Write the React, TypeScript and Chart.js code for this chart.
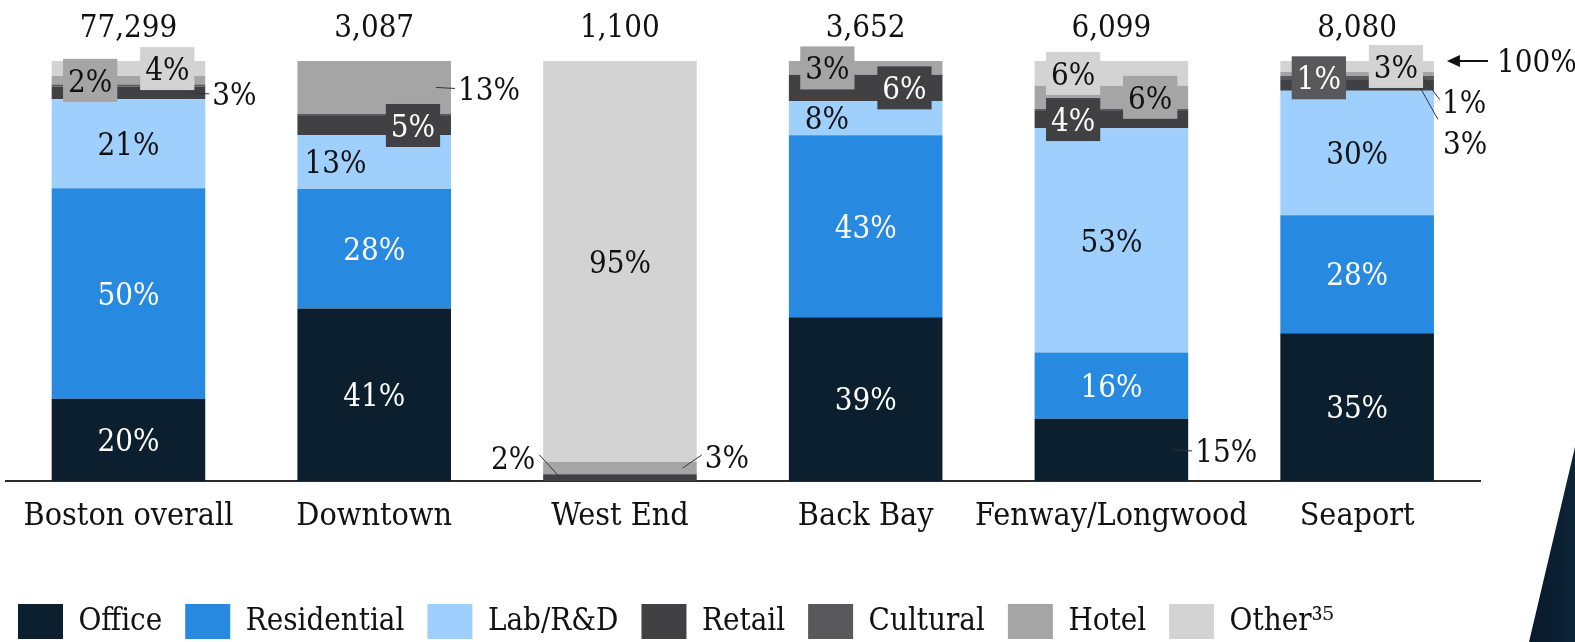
import React, { useEffect, useRef } from "react";
import { Chart, registerables } from "chart.js";

Chart.register(...registerables);

const FONT_FAMILY = "'DejaVu Serif Condensed', 'DejaVu Serif', serif";
const FONT_SIZE = 31;
const TICK_FONT_SIZE = 32;
const DIGIT_H = 0.729 * FONT_SIZE;

// ---------- data ----------
const categories = ["Boston overall", "Downtown", "West End", "Back Bay", "Fenway/Longwood", "Seaport"];
const totalProjects = [77299, 3087, 1100, 3652, 6099, 8080];
const seriesNames = ["Office", "Residential", "Lab/R&D", "Retail", "Cultural", "Hotel", "Other\u00B3\u2075"];
const office = [19.6, 41.1, 0, 39.0, 14.8, 35.2];
const residential = [50.1, 28.4, 0, 43.3, 15.8, 28.1];
const labRD = [21.2, 12.9, 0, 8.2, 53.4, 29.6];
const retail = [3.0, 4.5, 1.6, 6.2, 4.1, 2.6];
const cultural = [0.5, 0.5, 0, 0, 0.5, 1.0];
const hotel = [2.0, 12.6, 3.0, 3.3, 5.5, 0.9];
const other = [3.6, 0, 95.4, 0, 5.9, 2.6];
const axisMax = 100;

const seriesValues = [office, residential, labRD, retail, cultural, hotel, other];

// ---------- styles ----------
const colors = ["#0b1f2f", "#2889e0", "#9fd0fd", "#414143", "#59595b", "#a5a5a5", "#d3d3d3"];
const textColors = ["#ffffff", "#ffffff", "#111111", "#ffffff", "#ffffff", "#111111", "#111111"];

// label placement per series (rows) and category (columns)
const placement = [
  ["c", "c", "", "c", "out", "c"],
  ["c", "c", "", "c", "c", "c"],
  ["c", "in", "", "in", "c", "c"],
  ["out", "boxR", "dl0", "boxR", "boxL", "dr1"],
  ["", "", "", "", "", "boxL"],
  ["boxL", "out", "dr0", "boxL", "boxR", "dr2"],
  ["boxR", "", "c", "", "boxL", "boxR"],
];

// callouts: tx text offset outward from bar edge, ty text centre offset from segment centre,
// lx0 line start (outward offset, at segment centre), lx1/ly1 line end (outward offset, offset from text centre)
const callouts: Record<string, { side: number; tx: number; ty: number; lx0: number; lx1: number; ly1: number }> = {
  out: { side: 1, tx: 7, ty: 1, lx0: -15, lx1: 4, ly1: 0 },
  dl0: { side: -1, tx: 8, ty: -20, lx0: -17, lx1: 4, ly1: -3 },
  dr0: { side: 1, tx: 8, ty: -11, lx0: -14, lx1: 5, ly1: -2 },
  dr1: { side: 1, tx: 9, ty: 57, lx0: -15, lx1: 4, ly1: -23 },
  dr2: { side: 1, tx: 8, ty: 28, lx0: -14, lx1: 6, ly1: -2 },
};

const LEGEND_LEFT = 18;
const LEGEND_TOP = 604;

const legendPlace = {
  id: "legendPlace",
  afterLayout(chart: any) {
    const lg = chart.legend;
    if (!lg) return;
    const pad = lg.options.labels.padding;
    lg.left = LEGEND_LEFT - pad;
    lg.right = lg.left + lg.width;
    lg.top = LEGEND_TOP - pad;
    lg.bottom = lg.top + lg.height;
  },
};

const labelPlugin = {
  id: "segmentLabels",
  afterDatasetsDraw(chart: any) {
    const ctx: CanvasRenderingContext2D = chart.ctx;
    const yScale = chart.scales.y;
    ctx.save();
    ctx.font = `${FONT_SIZE}px ${FONT_FAMILY}`;
    const lines: number[][] = [];
    const boxes: { cx: number; cy: number; w: number; color: string }[] = [];
    const texts: { t: string; x: number; y: number; align: CanvasTextAlign; color: string }[] = [];

    chart.data.datasets.forEach((ds: any, di: number) => {
      const meta = chart.getDatasetMeta(di);
      meta.data.forEach((bar: any, i: number) => {
        const mode = placement[di][i];
        if (!mode) return;
        const v = ds.data[i];
        const p = bar.getProps(["x", "y", "base", "width"], true);
        const left = p.x - p.width / 2;
        const right = p.x + p.width / 2;
        const cy = (p.y + p.base) / 2;
        const t = Math.round(v) + "%";
        if (mode === "c") {
          texts.push({ t, x: p.x, y: cy, align: "center", color: textColors[di] });
        } else if (mode === "in") {
          texts.push({ t, x: left + 38, y: cy, align: "center", color: textColors[di] });
        } else if (mode === "boxL" || mode === "boxR") {
          const cx = mode === "boxL" ? left + 38.5 : right - 38;
          const w = ctx.measureText(t).width + 10;
          boxes.push({ cx, cy, w, color: colors[di] });
          texts.push({ t, x: cx, y: cy, align: "center", color: textColors[di] });
        } else {
          const c = callouts[mode];
          const edge = c.side > 0 ? right : left;
          const ty = cy + c.ty;
          lines.push([edge + c.side * c.lx0, cy, edge + c.side * c.lx1, ty + c.ly1]);
          texts.push({ t, x: edge + c.side * c.tx, y: ty, align: c.side > 0 ? "left" : "right", color: "#111111" });
        }
      });
    });

    ctx.strokeStyle = "#333333";
    ctx.lineWidth = 1;
    lines.forEach((l) => {
      ctx.beginPath();
      ctx.moveTo(l[0], l[1]);
      ctx.lineTo(l[2], l[3]);
      ctx.stroke();
    });
    boxes.forEach((b) => {
      ctx.fillStyle = b.color;
      ctx.fillRect(b.cx - b.w / 2, b.cy - 21.5, b.w, 43);
    });
    ctx.textBaseline = "alphabetic";
    texts.forEach((tx) => {
      ctx.fillStyle = tx.color;
      ctx.textAlign = tx.align;
      ctx.fillText(tx.t, tx.x, tx.y + DIGIT_H / 2);
    });

    // totals above the bars
    const firstMeta = chart.getDatasetMeta(0);
    ctx.fillStyle = "#111111";
    ctx.textAlign = "center";
    const yTop = yScale.getPixelForValue(axisMax);
    firstMeta.data.forEach((bar: any, i: number) => {
      ctx.fillText(totalProjects[i].toLocaleString("en-US"), bar.x, yTop - 24);
    });

    // 100% arrow
    const lastBar = firstMeta.data[firstMeta.data.length - 1];
    const tipX = lastBar.x + lastBar.width / 2 + 13;
    ctx.strokeStyle = "#111111";
    ctx.lineWidth = 2;
    ctx.beginPath();
    ctx.moveTo(tipX + 8, yTop);
    ctx.lineTo(tipX + 41, yTop);
    ctx.stroke();
    ctx.fillStyle = "#111111";
    ctx.beginPath();
    ctx.moveTo(tipX, yTop);
    ctx.lineTo(tipX + 13, yTop - 6);
    ctx.lineTo(tipX + 13, yTop + 6);
    ctx.closePath();
    ctx.fill();
    ctx.textAlign = "left";
    ctx.fillText(axisMax + "%", tipX + 50, yTop + DIGIT_H / 2);
    ctx.restore();
  },
};

const decoration = {
  id: "decoration",
  afterDraw(chart: any) {
    const ctx: CanvasRenderingContext2D = chart.ctx;
    const W = chart.width;
    const H = chart.height;
    ctx.save();
    const g = ctx.createLinearGradient(W - 46, 0, W, 0);
    g.addColorStop(0, "#08192a");
    g.addColorStop(1, "#0d2437");
    ctx.fillStyle = g;
    ctx.beginPath();
    ctx.moveTo(W, H - 195);
    ctx.lineTo(W - 46, H);
    ctx.lineTo(W, H);
    ctx.closePath();
    ctx.fill();
    ctx.restore();
  },
};

export default function App() {
  const ref = useRef<HTMLCanvasElement>(null);
  useEffect(() => {
    const chart = new Chart(ref.current as HTMLCanvasElement, {
      type: "bar",
      data: {
        labels: categories,
        datasets: seriesValues.map((d, k) => ({
          label: seriesNames[k],
          data: d,
          backgroundColor: colors[k],
          borderWidth: 0,
          categoryPercentage: 1,
          barPercentage: 0.625,
        })),
      },
      options: {
        responsive: false,
        animation: false,
        devicePixelRatio: 1,
        layout: { padding: { left: 5.6, right: 95, top: 61, bottom: 0 } },
        scales: {
          x: {
            stacked: true,
            grid: { display: false, drawTicks: false },
            border: { display: true, color: "#2b2b2b", width: 2 },
            ticks: {
              color: "#111111",
              font: { family: FONT_FAMILY, size: TICK_FONT_SIZE },
              padding: 16,
              autoSkip: false,
              maxRotation: 0,
            },
            afterFit: (s: any) => {
              s.height = 161 - s.chart.legend.height;
            },
          },
          y: { stacked: true, display: false, min: 0, max: axisMax },
        },
        plugins: {
          legend: {
            position: "bottom",
            align: "start",
            labels: {
              boxWidth: 45,
              boxHeight: 35,
              padding: 23,
              color: "#111111",
              font: { family: FONT_FAMILY, size: FONT_SIZE },
            },
          },
          tooltip: { enabled: false },
        },
      } as any,
      plugins: [legendPlace, labelPlugin, decoration],
    });
    return () => chart.destroy();
  }, []);
  return (
    <div style={{ position: "absolute", left: 0, top: 0, width: 1575, height: 642, background: "#ffffff" }}>
      <canvas ref={ref} width={1575} height={642} style={{ display: "block", width: 1575, height: 642 }} />
    </div>
  );
}
